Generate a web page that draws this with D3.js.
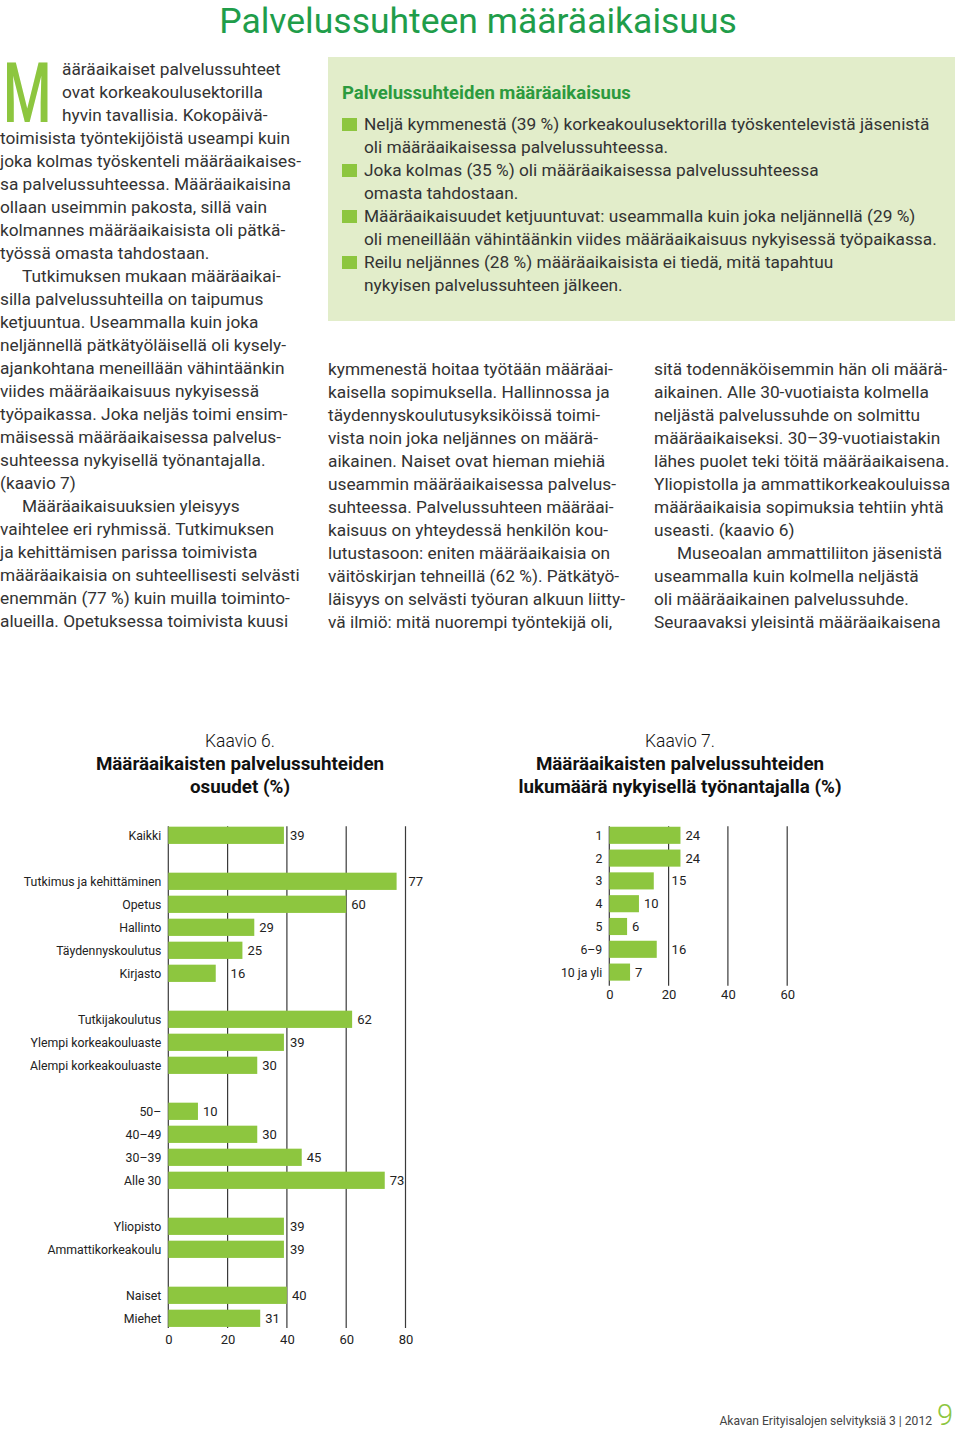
<!DOCTYPE html>
<html><head><meta charset="utf-8">
<script src="https://cdn.jsdelivr.net/npm/d3@7"></script>
<style>
html,body{margin:0;padding:0;background:#fff;}
svg{display:block;}
text{font-family:Roboto,'Open Sans',sans-serif;}
</style></head>
<body>
<script>
// ---------- DATA ----------
const pageTitle = "Palvelussuhteen määräaikaisuus";
const dropCap = "M";
const leftCol = [
 "ääräaikaiset palvelussuhteet",
 "ovat korkeakoulusektorilla",
 "hyvin tavallisia. Kokopäivä-",
 "toimisista työntekijöistä useampi kuin",
 "joka kolmas työskenteli määräaikaises-",
 "sa palvelussuhteessa. Määräaikaisina",
 "ollaan useimmin pakosta, sillä vain",
 "kolmannes määräaikaisista oli pätkä-",
 "työssä omasta tahdostaan.",
 "Tutkimuksen mukaan määräaikai-",
 "silla palvelussuhteilla on taipumus",
 "ketjuuntua. Useammalla kuin joka",
 "neljännellä pätkätyöläisellä oli kysely-",
 "ajankohtana meneillään vähintäänkin",
 "viides määräaikaisuus nykyisessä",
 "työpaikassa. Joka neljäs toimi ensim-",
 "mäisessä määräaikaisessa palvelus-",
 "suhteessa nykyisellä työnantajalla.",
 "(kaavio 7)",
 "Määräaikaisuuksien yleisyys",
 "vaihtelee eri ryhmissä. Tutkimuksen",
 "ja kehittämisen parissa toimivista",
 "määräaikaisia on suhteellisesti selvästi",
 "enemmän (77 %) kuin muilla toiminto-",
 "alueilla. Opetuksessa toimivista kuusi"
];
const leftIndent = [9, 19];      // paragraph-start lines
const leftCapLines = [0, 1, 2];  // lines beside the drop cap
const midCol = [
 "kymmenestä hoitaa työtään määräai-",
 "kaisella sopimuksella. Hallinnossa ja",
 "täydennyskoulutusyksiköissä toimi-",
 "vista noin joka neljännes on määrä-",
 "aikainen. Naiset ovat hieman miehiä",
 "useammin määräaikaisessa palvelus-",
 "suhteessa. Palvelussuhteen määräai-",
 "kaisuus on yhteydessä henkilön kou-",
 "lutustasoon: eniten määräaikaisia on",
 "väitöskirjan tehneillä (62 %). Pätkätyö-",
 "läisyys on selvästi työuran alkuun liitty-",
 "vä ilmiö: mitä nuorempi työntekijä oli,"
];
const rightCol = [
 "sitä todennäköisemmin hän oli määrä-",
 "aikainen. Alle 30-vuotiaista kolmella",
 "neljästä palvelussuhde on solmittu",
 "määräaikaiseksi. 30–39-vuotiaistakin",
 "lähes puolet teki töitä määräaikaisena.",
 "Yliopistolla ja ammattikorkeakouluissa",
 "määräaikaisia sopimuksia tehtiin yhtä",
 "useasti. (kaavio 6)",
 "Museoalan ammattiliiton jäsenistä",
 "useammalla kuin kolmella neljästä",
 "oli määräaikainen palvelussuhde.",
 "Seuraavaksi yleisintä määräaikaisena"
];
const rightIndent = [8];
const boxTitle = "Palvelussuhteiden määräaikaisuus";
const boxBullets = [
 ["Neljä kymmenestä (39 %) korkeakoulusektorilla työskentelevistä jäsenistä", "oli määräaikaisessa palvelussuhteessa."],
 ["Joka kolmas (35 %) oli määräaikaisessa palvelussuhteessa", "omasta tahdostaan."],
 ["Määräaikaisuudet ketjuuntuvat: useammalla kuin joka neljännellä (29 %)", "oli meneillään vähintäänkin viides määräaikaisuus nykyisessä työpaikassa."],
 ["Reilu neljännes (28 %) määräaikaisista ei tiedä, mitä tapahtuu", "nykyisen palvelussuhteen jälkeen."]
];

const chart6Title = ["Kaavio 6.", "Määräaikaisten palvelussuhteiden", "osuudet (%)"];
const cat6 = ["Kaikki",
  "Tutkimus ja kehittäminen", "Opetus", "Hallinto", "Täydennyskoulutus", "Kirjasto",
  "Tutkijakoulutus", "Ylempi korkeakouluaste", "Alempi korkeakouluaste",
  "50–", "40–49", "30–39", "Alle 30",
  "Yliopisto", "Ammattikorkeakoulu",
  "Naiset", "Miehet"];
const group6 = [0, 1,1,1,1,1, 2,2,2, 3,3,3,3, 4,4, 5,5];
const val6 = [39, 77, 60, 29, 25, 16, 62, 39, 30, 10, 30, 45, 73, 39, 39, 40, 31];
const ticks6 = [0, 20, 40, 60, 80];

const chart7Title = ["Kaavio 7.", "Määräaikaisten palvelussuhteiden", "lukumäärä nykyisellä työnantajalla (%)"];
const cat7 = ["1", "2", "3", "4", "5", "6–9", "10 ja yli"];
const val7 = [24, 24, 15, 10, 6, 16, 7];
const ticks7 = [0, 20, 40, 60];

const footerText = "Akavan Erityisalojen selvityksiä 3 | 2012";
const pageNumber = "9";

// ---------- STYLE ----------
const BAR = "#8dc63f", GRID = "#3a3a3a", TXT = "#333", TITLEGREEN = "#1f9d4a";
const BODY = 17.3;

const svg = d3.select("body").append("svg").attr("width", 960).attr("height", 1432);
svg.append("rect").attr("width", 960).attr("height", 1432).attr("fill", "#fff");

// Title
svg.append("text").attr("x", 478).attr("y", 33).attr("text-anchor", "middle")
  .attr("font-size", 35.5).attr("font-weight", 400).attr("fill", TITLEGREEN).text(pageTitle);

// Body columns
const LH = 23;
function column(lines, x0, yc0, indentIdx, indentX, special) {
  const g = svg.append("g");
  g.selectAll("text").data(lines).join("text")
    .attr("x", (d, i) => special && special.lines.includes(i) ? special.x : (indentIdx.includes(i) ? indentX : x0))
    .attr("y", (d, i) => yc0 + i * LH + 6)
    .attr("font-size", BODY).attr("fill", TXT).text(d => d);
}
column(leftCol, 0, 69, leftIndent, 22, {lines: leftCapLines, x: 62});
column(midCol, 328, 369, [], 351);
column(rightCol, 654, 369, rightIndent, 677);

// drop cap
svg.append("text").attr("transform", "translate(3,122) scale(0.66,1)")
  .attr("font-size", 84).attr("font-weight", 500).attr("fill", BAR).text(dropCap);

// Green box
svg.append("rect").attr("x", 328).attr("y", 57).attr("width", 627).attr("height", 264).attr("fill", "#e2edca");
svg.append("text").attr("x", 342).attr("y", 99).attr("font-size", 18.5).attr("font-weight", 700)
  .attr("fill", "#2c9a3e").text(boxTitle);
boxBullets.forEach((b, bi) => {
  const yc = 124 + bi * 2 * LH;
  svg.append("rect").attr("x", 342).attr("y", yc - 6).attr("width", 15).attr("height", 13).attr("fill", BAR);
  b.forEach((line, li) => {
    svg.append("text").attr("x", 364).attr("y", yc + li * LH + 6).attr("font-size", BODY)
      .attr("fill", TXT).text(line);
  });
});

// ---------- CHARTS ----------
function chart(opts) {
  const g = svg.append("g");
  // titles
  opts.title.forEach((t, i) => {
    g.append("text").attr("x", opts.titleX).attr("y", 747 + i * 23).attr("text-anchor", "middle")
      .attr("font-size", i === 0 ? 17.5 : 18.8).attr("font-weight", i === 0 ? 300 : 700).attr("fill", "#111").text(t);
  });
  const x = d3.scaleLinear().domain([0, d3.max(opts.ticks)]).range([opts.x0, opts.x1]);
  const y = d3.scaleBand().domain(opts.keys).range(opts.yRange).paddingInner(0.25).paddingOuter(0.125);
  const firstTop = y(opts.keys[0]);
  const lastBottom = y(opts.keys[opts.keys.length - 1]) + y.bandwidth();
  // gridlines
  g.selectAll("line.grid").data(opts.ticks).join("line")
    .attr("x1", d => x(d)).attr("x2", d => x(d))
    .attr("y1", firstTop - 0.5).attr("y2", lastBottom + opts.gridExtra)
    .attr("stroke", GRID).attr("stroke-width", 1.2);
  // tick labels
  const ax = g.append("g").attr("transform", `translate(0,${opts.tickY})`)
    .call(d3.axisBottom(x).tickValues(opts.ticks).tickSize(0).tickPadding(0));
  ax.select(".domain").remove();
  ax.selectAll("text").attr("font-size", 13).attr("fill", "#222").attr("font-family", "Roboto,sans-serif");
  // bars
  const rows = opts.cats.map((c, i) => ({c, v: opts.vals[i], k: opts.keyOf(i)}));
  g.selectAll("rect.bar").data(rows).join("rect")
    .attr("x", x(0)).attr("y", d => y(d.k)).attr("width", d => x(d.v) - x(0))
    .attr("height", y.bandwidth()).attr("fill", BAR);
  // category labels
  g.selectAll("text.cat").data(rows).join("text")
    .attr("x", x(0) - 7).attr("y", d => y(d.k) + y.bandwidth() / 2 + 4.5)
    .attr("text-anchor", "end").attr("font-size", 12.3).attr("fill", "#222").text(d => d.c);
  // value labels (skip past a gridline they would cross)
  const gridX = opts.ticks.map(t => x(t));
  g.selectAll("text.val").data(rows).join("text")
    .attr("y", d => y(d.k) + y.bandwidth() / 2 + 4.5)
    .attr("font-size", 13).attr("fill", "#222").text(d => d.v)
    .each(function(d) {
      const end = x(d.v), w = this.getComputedTextLength();
      let lx = end + 5;
      const hit = gridX.find(gx => gx > end + 1 && gx < end + 5 + w + 1);
      if (hit !== undefined) lx = hit + 3;
      d3.select(this).attr("x", lx);
    });
}

// keys for chart 6 with blank spacer slots between groups
const keys6 = [];
const keyOf6 = [];
cat6.forEach((c, i) => {
  if (i > 0 && group6[i] !== group6[i - 1]) keys6.push("gap" + group6[i]);
  keyOf6.push(c); keys6.push(c);
});
chart({
  title: chart6Title, titleX: 240, ticks: ticks6, x0: 168.3, x1: 405.5,
  keys: keys6, keyOf: i => keyOf6[i], cats: cat6, vals: val6,
  yRange: [823.8, 1329.8], gridExtra: 1, tickY: 1335
});
chart({
  title: chart7Title, titleX: 680, ticks: ticks7, x0: 609.3, x1: 787.2,
  keys: cat7, keyOf: i => cat7[i], cats: cat7, vals: val7,
  yRange: [823.9, 983.5], gridExtra: 5, tickY: 990
});

// Footer
svg.append("text").attr("x", 932).attr("y", 1425).attr("text-anchor", "end")
  .attr("font-size", 12.1).attr("fill", "#444").text(footerText);
svg.append("text").attr("x", 937).attr("y", 1425).attr("font-size", 29).attr("font-weight", 300)
  .attr("fill", BAR).text(pageNumber);
</script>
</body></html>
